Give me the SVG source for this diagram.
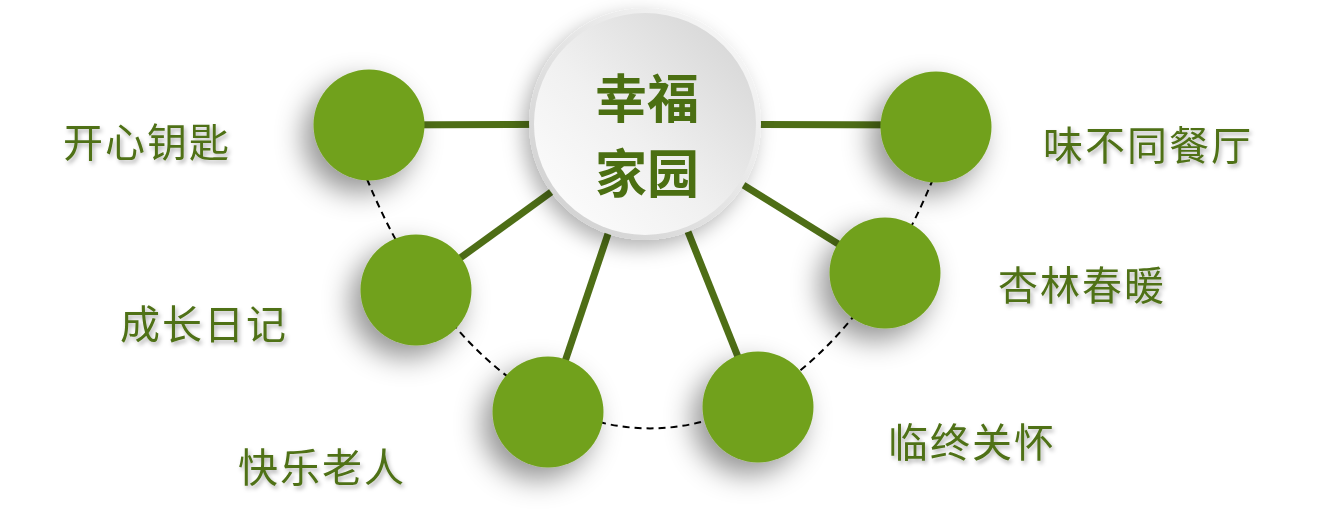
<svg xmlns="http://www.w3.org/2000/svg" width="1324" height="518" viewBox="0 0 1324 518">
  <defs>
    <style>
      .lbl { font-family: "Noto Sans CJK SC", "Noto Sans", sans-serif; font-size: 40px; letter-spacing: 2px; fill: #4f7119; filter: url(#tshadow); }
      .hub-txt { font-family: "Noto Sans CJK SC", "Noto Sans", sans-serif; font-size: 52px; font-weight: bold; fill: #4b6f12; text-anchor: middle; }
      .spoke { stroke: #4e6e16; stroke-width: 7; fill: none; }
      .dash { stroke: #000; stroke-width: 2; stroke-dasharray: 7 5; fill: none; }
      .node { fill: #71a11e; filter: url(#cshadow); }
    </style>
    <filter id="cshadow" x="-80%" y="-80%" width="260%" height="260%">
      <feDropShadow dx="-10" dy="12" stdDeviation="14" flood-color="#000" flood-opacity="0.42"/>
    </filter>
    <filter id="hshadow" x="-40%" y="-40%" width="180%" height="180%">
      <feDropShadow dx="-6" dy="8" stdDeviation="10" flood-color="#000" flood-opacity="0.3"/>
    </filter>
    <filter id="tshadow" x="-10%" y="-20%" width="130%" height="150%">
      <feDropShadow dx="2" dy="3" stdDeviation="2" flood-color="#000" flood-opacity="0.3"/>
    </filter>
    <linearGradient id="rim" x1="1" y1="0" x2="0" y2="1">
      <stop offset="0" stop-color="#fbfbfb"/>
      <stop offset="1" stop-color="#cdcdcd"/>
    </linearGradient>
    <linearGradient id="face" x1="1" y1="0" x2="0" y2="1">
      <stop offset="0" stop-color="#d2d2d2"/>
      <stop offset="0.55" stop-color="#f0f0f0"/>
      <stop offset="1" stop-color="#ffffff"/>
    </linearGradient>
  </defs>

  <rect width="1324" height="518" fill="#ffffff"/>

  <g id="connectors">
    <path class="dash" d="M 367 179 A 344 578 0 0 0 933 179"/>
    <line class="spoke" x1="369" y1="125" x2="645" y2="124"/>
    <line class="spoke" x1="936" y1="125" x2="645" y2="124"/>
    <line class="spoke" x1="416" y1="290" x2="645" y2="124"/>
    <line class="spoke" x1="548" y1="412" x2="645" y2="124"/>
    <line class="spoke" x1="758" y1="407" x2="645" y2="124"/>
    <line class="spoke" x1="885" y1="273" x2="645" y2="124"/>
  </g>

  <g id="node-kaixin">
    <circle class="node" cx="369" cy="125" r="55.5"/>
    <text class="lbl" x="63" y="157">开心钥匙</text>
  </g>
  <g id="node-chengzhang">
    <circle class="node" cx="416" cy="290" r="55.5"/>
    <text class="lbl" x="120" y="339">成长日记</text>
  </g>
  <g id="node-kuaile">
    <circle class="node" cx="548" cy="412" r="55.5"/>
    <text class="lbl" x="238" y="482">快乐老人</text>
  </g>
  <g id="node-linzhong">
    <circle class="node" cx="758" cy="407" r="55.5"/>
    <text class="lbl" x="888" y="457">临终关怀</text>
  </g>
  <g id="node-xinglin">
    <circle class="node" cx="885" cy="273" r="55.5"/>
    <text class="lbl" x="998" y="300">杏林春暖</text>
  </g>
  <g id="node-weibutong">
    <circle class="node" cx="936" cy="127" r="55.5"/>
    <text class="lbl" x="1043" y="160">味不同餐厅</text>
  </g>

  <g id="hub">
    <circle cx="645" cy="124" r="116" fill="url(#rim)" filter="url(#hshadow)"/>
    <circle cx="645" cy="124" r="111" fill="url(#face)"/>
    <text class="hub-txt" x="647" y="118">幸福</text>
    <text class="hub-txt" x="647" y="193">家园</text>
  </g>
</svg>
